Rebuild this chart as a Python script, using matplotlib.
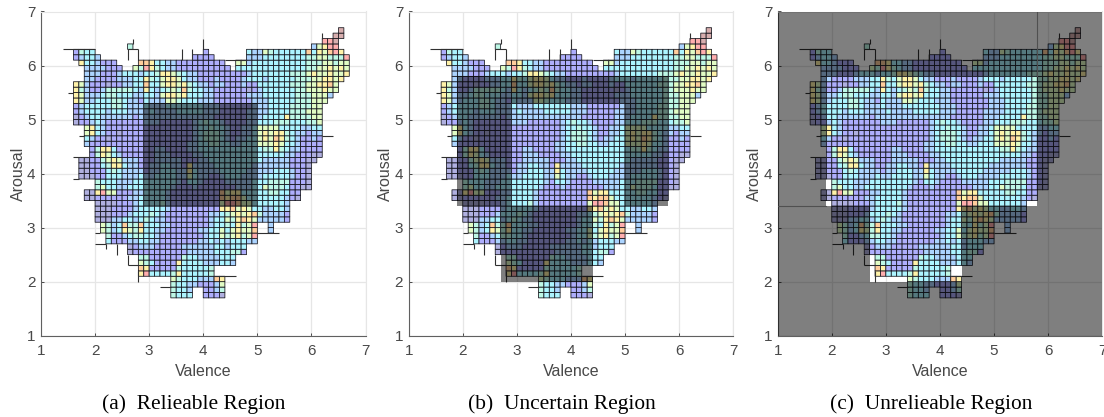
import matplotlib
matplotlib.use('Agg')
import matplotlib.pyplot as plt
import numpy as np
from matplotlib.colors import ListedColormap
from matplotlib.patches import PathPatch
from matplotlib.path import Path

# level colours of the map, low to high
level_colors = ['#b0b0e0', '#aeaefc', '#acd4ff', '#acf4ff', '#bef8e6',
                '#e1fcc4', '#fff2a8', '#ffcd9c', '#ffaeae', '#d7aeae']

# lower edge of each row of cells, top row first
row_y = [6.6, 6.5, 6.4, 6.3, 6.2, 6.1, 6.0, 5.9, 5.8, 5.7,
         5.6, 5.5, 5.4, 5.3, 5.2, 5.1, 5.0, 4.9, 4.8, 4.7,
         4.6, 4.5, 4.4, 4.3, 4.2, 4.1, 4.0, 3.9, 3.8, 3.7,
         3.6, 3.5, 3.4, 3.3, 3.2, 3.1, 3.0, 2.9, 2.8, 2.7,
         2.6, 2.5, 2.4, 2.3, 2.2, 2.1, 2.0, 1.9, 1.8, 1.7]

# valence spans covered in each row
row_spans = [
  [(6.5, 6.6)], [(6.4, 6.6)], [(6.2, 6.5)], [(2.6, 2.7), (6.0, 6.5)],
  [(1.6, 2.0), (4.0, 4.1), (4.8, 6.6)], [(1.6, 2.1), (3.8, 4.2), (4.8, 6.7)],
  [(1.7, 2.4), (2.8, 4.4), (4.6, 6.7)], [(1.8, 2.5), (2.7, 4.5), (4.6, 6.7)],
  [(1.8, 6.7)], [(1.8, 6.6)], [(1.6, 6.5)], [(1.6, 6.5)], [(1.6, 6.4)], [(1.6, 6.3)],
  [(1.6, 6.2)], [(1.6, 6.2)], [(1.6, 6.2)], [(1.6, 6.2)],
  [(1.8, 6.2)], [(1.8, 6.2)], [(1.8, 6.2)], [(1.8, 6.2)],
  [(1.9, 6.2)], [(1.9, 6.2)], [(1.7, 6.1)], [(1.7, 6.0)], [(1.7, 6.0)], [(1.7, 6.0)],
  [(2.0, 6.0)], [(2.0, 6.0)], [(1.8, 5.8)], [(1.8, 5.8)],
  [(2.0, 5.6)], [(2.0, 5.6)], [(2.0, 5.6)], [(2.0, 5.6)],
  [(2.1, 5.0), (5.2, 5.3)], [(2.1, 5.0), (5.2, 5.3)], [(2.2, 5.0)], [(2.2, 5.0)],
  [(2.6, 4.8)], [(2.6, 4.8)], [(2.8, 4.6)], [(2.8, 4.6)], [(2.8, 4.2)], [(2.8, 4.2)],
  [(3.4, 4.4)], [(3.4, 4.4)], [(3.4, 3.8), (4.0, 4.4)], [(3.4, 3.8), (4.0, 4.4)],
]

# colour level of each cell, left to right, same rows as row_y
row_levels = [
  '9', '99', '889', '4 25688',
  '1433 1 322543333337365786', '12332 1111 2223333333344554448',
  '6332111 7763322111111111 552333333333344455455', '2222111 548643221111111111 333333333333344556565',
  '22211123 3323346654322 111111111 23333333 44456556556',
  '2211112223 3643566532 2111211112 3332333334 44556656',
  '6521110112 2337335665 6432212211 1211333333 444556675',
  '6421124444 4326323454 7433221111 1101233333 344555655',
  '6522234433 3223325665 6333221111 1122233333 34445552',
  '6522333443 2213222554 3332221111 1112223333 3444555',
  '1233333443 2223222333 3333222111 1112223333 444455',
  '1233332333 2222322223 3333222111 1122223333 444555',
  '0123322222 2122222222 2222221111 1122233336 444455',
  '0112321111 1112221111 1123433211 1122333444 333445',
  '56321111 1111111111 1123343321 1223555533 332233',
  '56321101 1111111111 1123444321 1223565664 322122',
  '32110111 1111111111 1123444321 2233565764 321121',
  '21111111 1111111111 1223344332 2333555653 321111',
  '1466311 1111122111 1223333333 3333344643 221111',
  '1465321 1111122211 1122333333 3333333332 211100',
  '001145652 2211122222 1112233333 3333322222 11100',
  '001134663 2211223322 1622223333 3332222222 1110',
  '001113432 2221223332 2632222333 3322222333 2110',
  '000113332 2232233332 2532211233 3222233333 2110',
  '433322 2333333332 1332111122 2223334444 1110',
  '453322 3333333321 1121111111 2223354443 1100',
  '00685511 1223333211 1111111756 633333443311',
  '00111111 2233333211 1111111767 753333333210',
  '000011 1233334211 1111111588 7553333332',
  '000111 1233333211 1111111667 5653322332',
  '000111 2333432111 1111122345 6567422221',
  '000223 3234322111 1111123354 6765222221',
  '54237 4473332211 1111123343 6458 2',
  '54236 5463322111 1112233535 6557 2',
  '4112 3443321111 1111233545 6458',
  '3111 2233221111 1112232323 3322',
  '0122211111 2222223323 33',
  '0111111111 1222223334 41',
  '44111111 4332222333',
  '54311116 3333222332',
  '76111114 333334',
  '68333346 333334',
  '5433322276', '4332211125', '4332 1124', '4333 1110',
]

# loose outline pieces (x0, x1, y0, y1) around the map
stub_x0 = [1.4, 1.5, 1.7, 6.2, 1.6, 1.6, 2.0, 2.0, 5.0, 2.6, 2.6, 4.2, 3.2, 2.8, 2.2, 2.4, 2.7, 4.0, 6.2, 2.6, 2.8, 2.6, 3.6, 3.8, 4.4]
stub_x1 = [2.0, 1.6, 1.8, 6.4, 1.9, 1.7, 2.1, 2.2, 5.4, 2.8, 2.6, 4.6, 3.4, 2.8, 2.2, 2.4, 2.7, 4.0, 6.2, 2.6, 2.8, 2.8, 3.6, 3.8, 4.8]
stub_y0 = [6.3, 5.5, 4.7, 4.7, 4.3, 3.9, 2.9, 2.7, 2.9, 2.3, 2.3, 2.1, 1.9, 2.0, 2.6, 2.5, 6.4, 6.3, 6.5, 6.1, 6.1, 6.3, 6.1, 6.1, 6.1]
stub_y1 = [6.3, 5.5, 4.7, 4.7, 4.3, 3.9, 2.9, 2.7, 2.9, 2.3, 2.5, 2.1, 1.9, 2.2, 2.7, 2.7, 6.5, 6.5, 6.6, 6.3, 6.3, 6.3, 6.3, 6.3, 6.1]

# regions as outlines in (valence, arousal)
reliable_box = [(2.9, 3.4), (5.0, 3.4), (5.0, 5.3), (2.9, 5.3)]
certain_outline = [(1.9, 3.4), (2.7, 3.4), (2.7, 2.0), (4.4, 2.0), (4.4, 3.4),
                   (5.8, 3.4), (5.8, 5.8), (1.9, 5.8)]
whole_area = [(1, 1), (7, 1), (7, 7), (1, 7)]

captions = ['(a)  Relieable Region', '(b)  Uncertain Region', '(c)  Unrelieable Region']
panel_left = [41, 408.7, 777.7]
tick_vals = [1, 2, 3, 4, 5, 6, 7]

W, H = 1104, 417
GRAY = '#484848'


def cell_table():
  xe = np.round(np.arange(1.6, 6.71, 0.1), 1)
  ye = np.round(np.arange(1.7, 6.71, 0.1), 1)
  z = np.full((len(ye) - 1, len(xe) - 1), np.nan)
  for y, spans, levels in zip(row_y, row_spans, row_levels):
    chars = levels.replace(' ', '')
    r = int(round((y - 1.7) * 10))
    k = 0
    for a, b in spans:
      for c in range(int(round((a - 1.6) * 10)), int(round((b - 1.6) * 10))):
        z[r, c] = int(chars[min(k, len(chars) - 1)])
        k += 1
  return xe, ye, np.ma.masked_invalid(z)


def shade(ax, outer, hole=None):
  verts = list(outer) + [outer[0]]
  codes = [Path.MOVETO] + [Path.LINETO] * (len(outer) - 1) + [Path.CLOSEPOLY]
  if hole is not None:
    back = list(hole)[::-1]
    verts += back + [back[0]]
    codes += [Path.MOVETO] + [Path.LINETO] * (len(back) - 1) + [Path.CLOSEPOLY]
  ax.add_patch(PathPatch(Path(verts, codes), facecolor='k', edgecolor='none', alpha=0.5, zorder=5, clip_on=True))


def panel(fig, left, caption):
  ax = fig.add_axes([left / W, 1 - 335.7 / H, 324.5 / W, 324.2 / H])
  xe, ye, z = cell_table()
  # pcolor leaves out the empty cells, edges included
  ax.pcolor(xe, ye, z, cmap=ListedColormap(level_colors), vmin=-0.5, vmax=9.5,
            edgecolors='#101018', linewidth=0.55, zorder=2)
  for a, b, c, d in zip(stub_x0, stub_x1, stub_y0, stub_y1):
    ax.plot([a, b], [c, d], color='#303030', lw=0.8, zorder=3, solid_capstyle='butt')
  ax.set_xlim(1, 7)
  ax.set_ylim(1, 7)
  ax.set_xticks(tick_vals)
  ax.set_yticks(tick_vals)
  ax.grid(True, color='#e6e6e6', lw=0.9, zorder=0)
  ax.set_axisbelow(True)
  ax.tick_params(direction='in', length=2.5, width=0.7, color=GRAY, labelcolor=GRAY, labelsize=11)
  ax.tick_params(axis='x', pad=6)
  ax.tick_params(axis='y', pad=4)
  for s in ['top', 'right']:
    ax.spines[s].set_color('#e6e6e6')
  for s in ['left', 'bottom']:
    ax.spines[s].set_color('#606060')
  ax.set_xlabel('Valence', color=GRAY, fontsize=11.5, labelpad=4.5)
  ax.set_ylabel('Arousal', color=GRAY, fontsize=11.5, labelpad=1)
  fig.text((left + 153) / W, 1 - 404.5 / H, caption, family='Liberation Serif', fontsize=15.4,
           ha='center', va='center', color='k')
  return ax


def main():
  plt.rcParams['font.family'] = ['Liberation Sans', 'DejaVu Sans']
  fig = plt.figure(figsize=(W / 100, H / 100), dpi=100)

  ax = panel(fig, panel_left[0], captions[0])
  shade(ax, reliable_box)

  ax = panel(fig, panel_left[1], captions[1])
  shade(ax, certain_outline, reliable_box)

  ax = panel(fig, panel_left[2], captions[2])
  shade(ax, whole_area, certain_outline)
  # seams left where the grey pieces meet
  ax.plot([5.8, 5.8], [5.8, 7], color='#505050', lw=0.8, zorder=6)
  ax.plot([1, 1.9], [3.4, 3.4], color='#505050', lw=0.8, zorder=6)

  fig.savefig('out.png', dpi=100)


if __name__ == '__main__':
  main()
